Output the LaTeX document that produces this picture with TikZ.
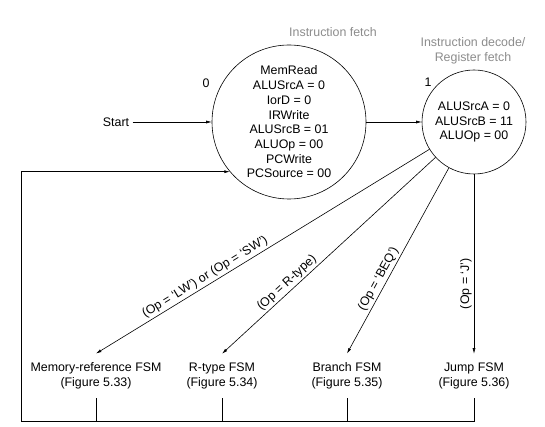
\documentclass[tikz,border=0pt]{standalone}
\usepackage{fontspec}
\setmainfont{Liberation Sans}
\usetikzlibrary{arrows.meta}

\begin{document}
\begin{tikzpicture}[
        x=1pt, y=-1pt,
        every node/.style={font=\fontsize{12.4}{14.7}\selectfont},
        state/.style={draw, circle, inner sep=0pt, align=center},
        fsm/.style={align=center, inner sep=9pt},
        phase/.style={text=black!45, align=center},
        cond/.style={sloped, above, inner sep=2pt},
        line width=0.6pt,
        >={Latex[length=5.5pt,width=3pt]}
    ]
        \useasboundingbox (0,0) rectangle (545,427);

        % States
        \node[state, minimum size=154pt] (S0) at (289,122) {MemRead\\ALUSrcA = 0\\IorD = 0\\IRWrite\\ALUSrcB = 01\\ALUOp = 00\\PCWrite\\PCSource = 00};
        \node[state, minimum size=104pt] (S1) at (474,122) {ALUSrcA = 0\\ALUSrcB = 11\\ALUOp = 00};
        \node (n0) at (206,83) {0};
        \node (n1) at (428,82) {1};
        \node[phase] (fetch) at (333,32) {Instruction fetch};
        \node[phase] (decode) at (473,51) {Instruction decode/\\Register fetch};
        \node (start) at (116,122) {Start};

        % Sub-machines
        \node[fsm] (mem) at (96,376) {Memory-reference FSM\\(Figure 5.33)};
        \node[fsm] (rtype) at (222,376) {R-type FSM\\(Figure 5.34)};
        \node[fsm] (branch) at (347,376) {Branch FSM\\(Figure 5.35)};
        \node[fsm] (jump) at (474,376) {Jump FSM\\(Figure 5.36)};
        \coordinate (corner) at (21,421);

        % Transitions
        \draw[->] (start) -- (S0);
        \draw[->] (S0) -- (S1);
        \draw[->] (S1) -- node[cond, pos=0.66] {(Op = `LW') or (Op = `SW')} (mem.north);
        \draw[->] (S1) -- node[cond, pos=0.67] {(Op = R-type)} (rtype.north);
        \draw[->] (S1) -- node[cond, pos=0.62] {(Op = `BEQ')} (branch.north);
        \draw[->] (S1) -- node[pos=0.61, rotate=90, anchor=south, inner sep=2pt] {(Op = `J')} (jump.north);

        % Return to fetch
        \draw (mem.south) -- (mem.south |- corner);
        \draw (rtype.south) -- (rtype.south |- corner);
        \draw (branch.south) -- (branch.south |- corner);
        \draw[->] (jump.south) |- (corner) |- (S0.220);
    \end{tikzpicture}
\end{document}
